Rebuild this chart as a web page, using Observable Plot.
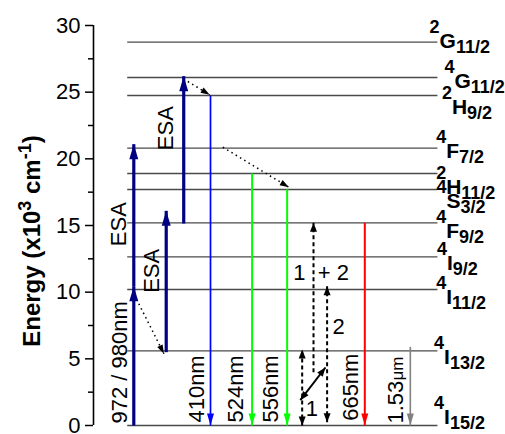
<!DOCTYPE html>
<html><head><meta charset="utf-8">
<script src="https://cdn.jsdelivr.net/npm/d3@7"></script>
<script src="https://cdn.jsdelivr.net/npm/@observablehq/plot@0.6"></script>
<style>html,body{margin:0;padding:0;background:#fff;}</style>
</head><body><div id="chart"></div>
<script>
// ---------------- data ----------------
const yTicks = [0, 5, 10, 15, 20, 25, 30];
const yMinorTicks = [2.5, 7.5, 12.5, 17.5, 22.5, 27.5];

// Er3+ energy levels (x10^3 cm^-1)
const levelNames   = ["4I15/2","4I13/2","4I11/2","4I9/2","4F9/2","4S3/2","2H11/2","4F7/2","2H9/2","4G11/2","2G11/2"];
const levelEnergy  = [0, 5.6, 10.2, 12.65, 15.2, 17.7, 18.9, 20.8, 24.75, 26.1, 28.75];
const levelSup     = ["4","4","4","4","4","4","2","4","2","4","2"];
const levelLetter  = ["I","I","I","I","F","S","H","F","H","G","G"];
const levelSub     = ["15/2","13/2","11/2","9/2","9/2","3/2","11/2","7/2","9/2","11/2","11/2"];
// label anchors (diagram column units, energy of letter baseline)
const levelLabelX  = [85.1, 85.1, 85.6, 85.8, 85.6, 85.7, 85.6, 85.6, 87.0, 87.6, 84.0];
const levelLabelE  = [0.15, 4.65, 9.15, 11.7, 14.1, 16.28, 17.4, 20.1, 23.4, 25.35, 28.28];
const levelSpan    = [8.3, 83.6];

// pump / ESA absorptions (navy arrows)
const pumpNames = ["972 / 980nm", "ESA a", "ESA b", "ESA c"];
const pumpFrom  = [0, 10.45, 5.5, 15.15];
const pumpTo    = [10.45, 21.1, 16.1, 26.2];
const pumpX     = [9.78, 9.78, 17.65, 21.9];

// radiative emissions
const emNames = ["410nm", "524nm", "556nm", "665nm", "1.53μm"];
const emFrom  = [24.75, 18.9, 17.7, 15.2, 5.9];
const emTo    = [0, 0, 0, 0, 0];
const emX     = [28.4, 38.5, 47.0, 65.85, 76.9];
const emColors = ["#0000ff", "#00ff00", "#00ff00", "#ff0000", "#808080"];
const emWidths = [1.7, 2, 2, 2, 1.6];

// non-radiative relaxations (dotted)
const nrX1 = [11.0, 22.9, 31.4];
const nrE1 = [9.13, 25.8, 20.87];
const nrX2 = [17.1, 28.2, 47.4];
const nrE2 = [5.38, 24.8, 17.87];

// energy transfer processes (dashed)
const etNames = ["1", "1 + 2", "2"];
const etX     = [50.65, 53.4, 56.7];
const etFrom  = [0, 4.0, 0.25];
const etTo    = [5.7, 15.2, 10.45];
const etBoth  = [true, false, true];

// cross relaxation coupling (solid diagonal double arrow)
const crX1 = [50.2], crE1 = [1.9], crX2 = [56.3], crE2 = [4.35];

// text annotations
const wlText = ["972 / 980nm", "410nm", "524nm", "556nm", "665nm", "1.53"];
const wlX    = [8.25, 26.7, 36.2, 44.7, 64.3, 75.0];
const wlE    = [0.15, 0.22, 0.22, 0.22, 0.35, 0.15];
const esaX   = [7.77, 15.8, 19.2];
const esaE   = [15.1, 11.6, 22.3];
const numText = ["1\u00a0\u00a0+ 2", "2", "1"];
const numX    = [48.5, 58.0, 51.5];
const numE    = [10.9, 6.9, 0.75];

// ---------------- layout ----------------
const W = 505, H = 434, ML = 93, MR = 0, MT = 25, MB = 9;
const pxPerUnit = (W - ML - MR) / 100;
const FONT = "Arial, 'Liberation Sans', Helvetica, sans-serif";
const navy = "#000080";
const LETTER_SIZE = 21, SCRIPT_SIZE = 18;

const ctx = document.createElement("canvas").getContext("2d");
ctx.font = `bold ${LETTER_SIZE}px ${FONT}`;

const ns = "http://www.w3.org/2000/svg";
function head(len, wid, start = false) {
  return (color) => {
    const m = document.createElementNS(ns, "marker");
    m.setAttribute("viewBox", `${-len} ${-wid / 2} ${len} ${wid}`);
    m.setAttribute("markerWidth", len);
    m.setAttribute("markerHeight", wid);
    m.setAttribute("markerUnits", "userSpaceOnUse");
    m.setAttribute("orient", start ? "auto-start-reverse" : "auto");
    m.setAttribute("overflow", "visible");
    const p = document.createElementNS(ns, "path");
    p.setAttribute("d", `M0,0L${-len},${-wid / 2}L${-len},${wid / 2}Z`);
    p.setAttribute("fill", color);
    p.setAttribute("stroke", "none");
    m.appendChild(p);
    return m;
  };
}

const levels = levelNames.map((n, i) => ({name: n, E: levelEnergy[i], sup: levelSup[i], letter: levelLetter[i], sub: levelSub[i], lx: levelLabelX[i], ly: levelLabelE[i]}));
const pumps = pumpNames.map((n, i) => ({name: n, x: pumpX[i], from: pumpFrom[i], to: pumpTo[i]}));
const emissions = emNames.map((n, i) => ({name: n, x: emX[i], from: emFrom[i], to: emTo[i], color: emColors[i], w: emWidths[i]}));
const relax = nrX1.map((x, i) => ({x1: x, y1: nrE1[i], x2: nrX2[i], y2: nrE2[i]}));
const transfers = etNames.map((n, i) => ({name: n, x: etX[i], from: etFrom[i], to: etTo[i], both: etBoth[i]}));
const cross = crX1.map((x, i) => ({x1: x, y1: crE1[i], x2: crX2[i], y2: crE2[i]}));
const wl = wlText.map((t, i) => ({t, x: wlX[i], y: wlE[i]}));
const esa = esaX.map((x, i) => ({x, y: esaE[i]}));
const nums = numText.map((t, i) => ({t, x: numX[i], y: numE[i]}));

const emissionMarks = emissions.map(d => Plot.link([d], {x1: "x", x2: "x", y1: "from", y2: "to", stroke: d.color, strokeWidth: d.w, markerEnd: head(12, 7)}));

const chart = Plot.plot({
  width: W, height: H,
  marginLeft: ML, marginRight: MR, marginTop: MT, marginBottom: MB,
  style: {fontFamily: FONT, background: "white", color: "black"},
  x: {domain: [0, 100], axis: null},
  y: {domain: [0, 30]},
  marks: [
    Plot.ruleY(levels, {y: "E", x1: levelSpan[0], x2: levelSpan[1], stroke: "#4a4a4a", strokeWidth: 1.3}),
    Plot.ruleX([0], {y1: yTicks[0], y2: yTicks[yTicks.length - 1], stroke: "black", strokeWidth: 1.6}),
    Plot.axisY({ticks: yTicks, tickSize: 8, tickPadding: 5, fontSize: 22, label: null, strokeWidth: 1.5}),
    Plot.axisY({ticks: yMinorTicks, tickSize: 5, tickFormat: () => "", label: null, strokeWidth: 1.5}),
    // non-radiative (dotted)
    Plot.link(relax, {x1: "x1", y1: "y1", x2: "x2", y2: "y2", stroke: "black", strokeWidth: 1.5, strokeDasharray: "1.5,3.5", markerEnd: head(9, 6)}),
    // pumps / ESA
    Plot.link(pumps, {x1: "x", x2: "x", y1: "from", y2: "to", stroke: navy, strokeWidth: 3.2, markerEnd: head(15, 9)}),
    // emissions
    ...emissionMarks,
    // energy transfer (dashed)
    Plot.link(transfers.filter(d => d.both), {x1: "x", x2: "x", y1: "from", y2: "to", stroke: "black", strokeWidth: 2, strokeDasharray: "4,3", markerStart: head(9, 7, true), markerEnd: head(9, 7)}),
    Plot.link(transfers.filter(d => !d.both), {x1: "x", x2: "x", y1: "from", y2: "to", stroke: "black", strokeWidth: 2, strokeDasharray: "4,3", markerEnd: head(9, 7)}),
    // cross relaxation
    Plot.link(cross, {x1: "x1", y1: "y1", x2: "x2", y2: "y2", stroke: "black", strokeWidth: 2, markerStart: head(9, 7, true), markerEnd: head(9, 7)}),
    // level labels
    Plot.text(levels, {x: "lx", y: "ly", text: "sup", textAnchor: "end", lineAnchor: "bottom", dy: -15, fontSize: SCRIPT_SIZE, fontWeight: "bold", fill: "black"}),
    Plot.text(levels, {x: "lx", y: "ly", text: "letter", textAnchor: "start", lineAnchor: "bottom", fontSize: LETTER_SIZE, fontWeight: "bold", fill: "black"}),
    Plot.text(levels, {x: d => d.lx + ctx.measureText(d.letter).width / pxPerUnit, y: "ly", text: "sub", textAnchor: "start", lineAnchor: "bottom", dy: 5, fontSize: SCRIPT_SIZE, fontWeight: "bold", fill: "black"}),
    // wavelength labels
    Plot.text(wl, {x: "x", y: "y", text: "t", rotate: -90, textAnchor: "start", lineAnchor: "bottom", fontSize: 22, fill: "black"}),
    Plot.text(wl.slice(-1), {x: "x", y: "y", text: () => "μm", rotate: -90, textAnchor: "start", lineAnchor: "bottom", dy: -43, fontSize: 17, fill: "black"}),
    Plot.text(esa, {x: "x", y: "y", text: () => "ESA", rotate: -90, textAnchor: "middle", lineAnchor: "bottom", fontSize: 22, fill: "black"}),
    Plot.text(nums, {x: "x", y: "y", text: "t", textAnchor: "start", lineAnchor: "bottom", fontSize: 22, fill: "black"})
  ]
});

// y-axis title with superscripts
const yScale = chart.scale("y");
const t = d3.select(chart).append("text")
  .attr("transform", `translate(${ML - 53},${yScale.apply(13.8)}) rotate(-90)`)
  .attr("text-anchor", "middle").attr("font-size", 24).attr("font-weight", "bold").attr("fill", "black");
t.append("tspan").text("Energy (x10");
t.append("tspan").attr("font-size", 18).attr("dy", -9).text("3");
t.append("tspan").attr("dy", 9).text(" cm");
t.append("tspan").attr("font-size", 18).attr("dy", -9).text("-1");
t.append("tspan").attr("dy", 9).text(")");

document.getElementById("chart").appendChild(chart);
</script>
</body></html>
